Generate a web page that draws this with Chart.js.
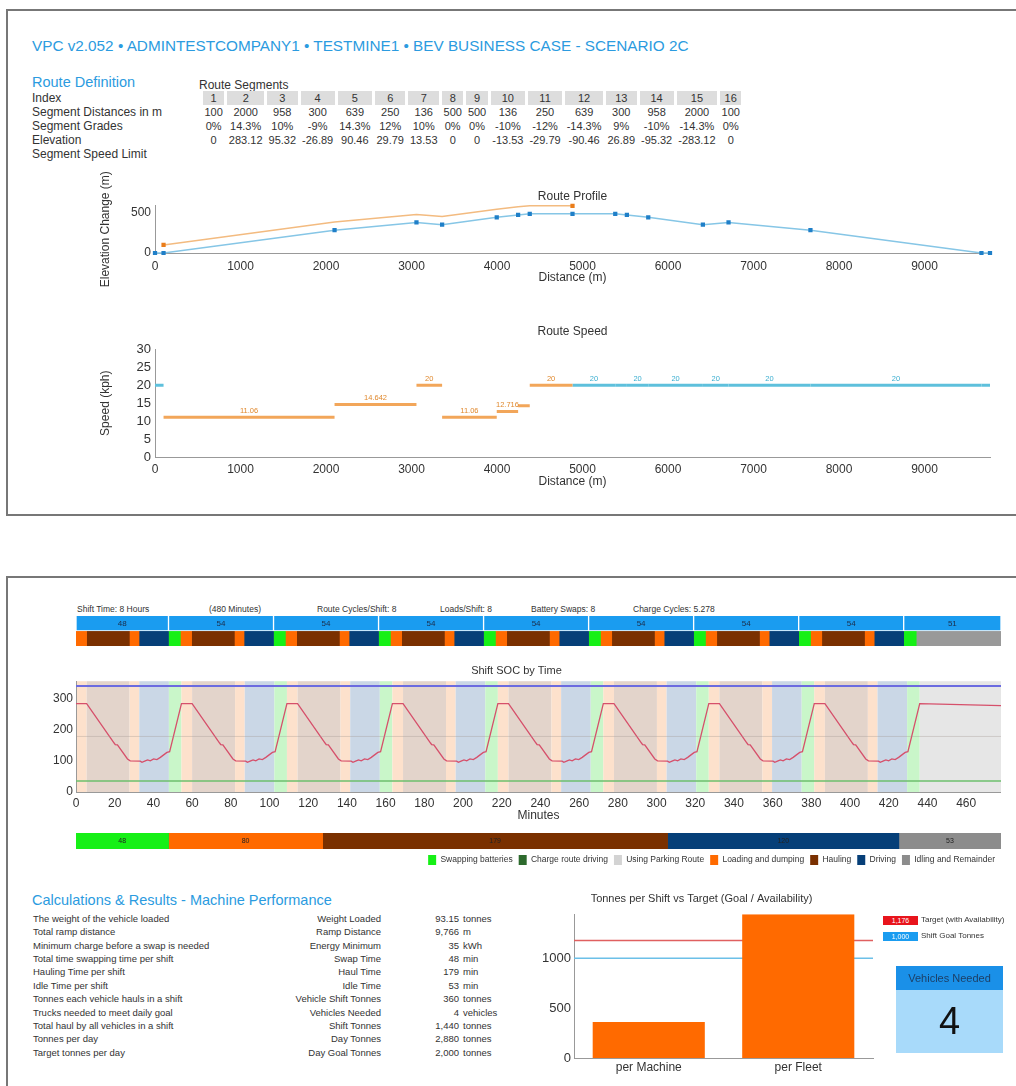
<!DOCTYPE html>
<html>
<head>
<meta charset="utf-8">
<title>VPC BEV Business Case</title>
<script src="https://cdn.jsdelivr.net/npm/chart.js@4.4.1/dist/chart.umd.min.js"></script>
<style>
  body { margin: 0; background: #fff; font-family: "Liberation Sans", Arial, sans-serif; color: #333; }
  #page { position: relative; width: 1016px; height: 1086px; overflow: hidden; }
  .panel { position: absolute; border: 2px solid #777; }
  .txt { position: absolute; white-space: nowrap; line-height: 1; }
  .head { color: #2b9be0; }
  canvas { position: absolute; }
  #segTable { position: absolute; left: 29px; top: 91px; border-collapse: separate; border-spacing: 3px 0; font-size: 11px; }
  #segTable td { height: 14px; line-height: 14px; padding: 0 1.5px; text-align: center; white-space: nowrap; }
  #segTable td.lbl { text-align: left; font-size: 12px; width: 168px; padding: 0; }
  #segTable td.idx { background: #ddd; }
  .swatch { position: absolute; width: 35px; height: 9px; color: #fff; font-size: 7px; line-height: 9px; text-align: center; }
  #vehBox { position: absolute; left: 896px; top: 966px; width: 107px; height: 87px; background: #a8dafa; }
  #vehBox .top { height: 24px; line-height: 24px; background: #1a90e8; color: #1d3f66; font-size: 11px; text-align: center; }
  #vehBox .num { text-align: center; font-size: 38px; line-height: 63px; color: #111; }
</style>
</head>
<body>
<div id="page">
  <div class="panel" style="left:6px; top:9px; width:1030px; height:503px;"></div>
  <div class="panel" style="left:6px; top:576px; width:1030px; height:540px;"></div>

  <div class="txt head" style="left:32px; top:38px; font-size:15.3px;">VPC v2.052 • ADMINTESTCOMPANY1 • TESTMINE1 • BEV BUSINESS CASE - SCENARIO 2C</div>
  <div class="txt head" style="left:32px; top:75px; font-size:14.5px;">Route Definition</div>
  <div class="txt" style="left:199px; top:79px; font-size:12px;">Route Segments</div>
  <table id="segTable"></table>

  <canvas id="profile" width="910" height="125" style="left:95px; top:165px;"></canvas>
  <canvas id="speed" width="910" height="176" style="left:95px; top:318px;"></canvas>

  <div id="shiftInfo"></div>
  <canvas id="strip" width="925" height="30" style="left:76px; top:616px;"></canvas>
  <canvas id="soc" width="969" height="166" style="left:32px; top:660px;"></canvas>
  <canvas id="totals" width="925" height="32" style="left:76px; top:833px;"></canvas>

  <div class="txt head" style="left:32px; top:893px; font-size:14.5px;">Calculations &amp; Results - Machine Performance</div>
  <div id="calc"></div>

  <canvas id="tonnes" width="486" height="190" style="left:530px; top:888px;"></canvas>
  <div id="tonnesKey"></div>
  <div id="vehBox"><div class="top">Vehicles Needed</div><div class="num" id="vehNum"></div></div>
</div>

<script>
// ---------- route segments ----------
const segIndex = ['1', '2', '3', '4', '5', '6', '7', '8', '9', '10', '11', '12', '13', '14', '15', '16'];
const segDist = ['100', '2000', '958', '300', '639', '250', '136', '500', '500', '136', '250', '639', '300', '958', '2000', '100'];
const segGrade = ['0%', '14.3%', '10%', '-9%', '14.3%', '12%', '10%', '0%', '0%', '-10%', '-12%', '-14.3%', '9%', '-10%', '-14.3%', '0%'];
const segElev = ['0', '283.12', '95.32', '-26.89', '90.46', '29.79', '13.53', '0', '0', '-13.53', '-29.79', '-90.46', '26.89', '-95.32', '-283.12', '0'];

// ---------- route profile (distance m / elevation m) ----------
const profileDist = [0, 100, 2100, 3058, 3358, 3997, 4247, 4383, 4883, 5383, 5519, 5769, 6408, 6708, 7666, 9666, 9766];
const profileElev = [0, 0, 283.12, 378.44, 351.55, 442.01, 471.8, 485.33, 485.33, 485.33, 471.8, 442.01, 351.55, 378.44, 283.12, 0, 0];
const loadedDist = [100, 2100, 3058, 3358, 3997, 4247, 4383, 4883];
const loadedElev = [100, 383, 478, 452, 542, 572, 585, 585];

// ---------- route speed (per segment) ----------
const speedKph = [20, 11.06, 14.642, 20, 11.06, 12.716, 14.3, 20, 20, 20, 20, 20, 20, 20, 20, 20];
const speedLoaded = [0, 1, 1, 1, 1, 1, 1, 1, 0, 0, 0, 0, 0, 0, 0, 0];
const speedText = ['', '11.06', '14.642', '20', '11.06', '12.716', '', '20', '20', '', '20', '20', '20', '20', '20', ''];

// ---------- tick labels ----------
const distTicks = [0, 1000, 2000, 3000, 4000, 5000, 6000, 7000, 8000, 9000];
const elevTicks = [0, 500];
const speedTicks = [0, 5, 10, 15, 20, 25, 30];
const minuteTicks = [0, 20, 40, 60, 80, 100, 120, 140, 160, 180, 200, 220, 240, 260, 280, 300, 320, 340, 360, 380, 400, 420, 440, 460];
const socTicks = [0, 100, 200, 300];
const tonnesTicks = [0, 500, 1000];

// ---------- shift timeline (minutes) ----------
const shiftInfo = ['Shift Time: 8 Hours', '(480 Minutes)', 'Route Cycles/Shift: 8', 'Loads/Shift: 8', 'Battery Swaps: 8', 'Charge Cycles: 5.278'];
const blockLabels = ['48', '54', '54', '54', '54', '54', '54', '54', '51'];
const blockEdges = [0, 48, 102.5, 157, 211.5, 266, 320.5, 375, 429.5, 480];
const cycleStart = [0, 54.5, 109, 163.5, 218, 272.5, 327, 381.5];
const phaseFrom = [0, 5.5, 27.7, 32.7, 48];     // load, haul, dump, drive, swap
const phaseTo = [5.5, 27.7, 32.7, 48, 54.5];
const idleFrom = 436;
const shiftEnd = 480;

// ---------- state of charge (kWh), one cycle ----------
const socCycleT = [0, 5.5, 19.7, 20.3, 21.4, 26.6, 28, 33.2, 34.1, 35.8, 37, 38.4, 40.1, 41.8, 43.6, 45.3, 47, 48.4];
const socCycleV = [283, 283, 157, 152, 151, 106, 100, 99, 95, 100, 103, 100, 106, 104, 111, 119, 127, 129];
const socEndT = [436, 478];
const socEndV = [283, 277];
const socCapacity = 340;
const socMid = 178;
const socMinimum = 35;

// ---------- shift totals (minutes) ----------
const totalNames = ['Swapping batteries', 'Charge route driving', 'Using Parking Route', 'Loading and dumping', 'Hauling', 'Driving', 'Idling and Remainder'];
const totalMinutes = [48, 0, 0, 80, 179, 120, 53];

// ---------- machine performance ----------
const calcDesc = ['The weight of the vehicle loaded', 'Total ramp distance', 'Minimum charge before a swap is needed', 'Total time swapping time per shift', 'Hauling Time per shift', 'Idle Time per shift', 'Tonnes each vehicle hauls in a shift', 'Trucks needed to meet daily goal', 'Total haul by all vehicles in a shift', 'Tonnes per day', 'Target tonnes per day'];
const calcName = ['Weight Loaded', 'Ramp Distance', 'Energy Minimum', 'Swap Time', 'Haul Time', 'Idle Time', 'Vehicle Shift Tonnes', 'Vehicles Needed', 'Shift Tonnes', 'Day Tonnes', 'Day Goal Tonnes'];
const calcValue = ['93.15', '9,766', '35', '48', '179', '53', '360', '4', '1,440', '2,880', '2,000'];
const calcUnit = ['tonnes', 'm', 'kWh', 'min', 'min', 'min', 'tonnes', 'vehicles', 'tonnes', 'tonnes', 'tonnes'];

// ---------- tonnes per shift ----------
const tonnesCats = ['per Machine', 'per Fleet'];
const tonnesVals = [360, 1440];
const targetAvail = 1176;
const shiftGoal = 1000;
const vehiclesNeeded = 4;

// colours
const phaseColors = ['#ff6a00', '#7a3000', '#ff6a00', '#063f78', '#16f016'];
const bandColors = ['#fde1cc', '#e3d4cb', '#fde1cc', '#cad7e6', '#c9f6c9'];
const totalColors = ['#16f016', '#2d6a2d', '#d3d3d3', '#ff6a00', '#7a3000', '#063f78', '#8c8c8c'];

Chart.defaults.font.family = '"Liberation Sans", Arial, sans-serif';
Chart.defaults.color = '#333';
Chart.defaults.animation = false;
Chart.defaults.plugins.legend.display = false;
Chart.defaults.plugins.tooltip.enabled = false;

const setTicks = vals => scale => { scale.ticks = vals.map(v => ({ value: v })); };
const plainNum = v => String(v);
const noGrid = { display: false, drawTicks: false };
const axisLine = { display: true, color: '#999' };

/* ---------- route segment table ---------- */
const rows = [
    ['Index', segIndex, 'idx'],
    ['Segment Distances in m', segDist, ''],
    ['Segment Grades', segGrade, ''],
    ['Elevation', segElev, ''],
    ['Segment Speed Limit', null, '']
];
document.getElementById('segTable').innerHTML = rows.map(([lbl, vals, cls]) =>
    `<tr><td class="lbl">${lbl}</td>` +
    (vals ? vals.map(v => `<td class="${cls}">${v}</td>`).join('') : '<td colspan="16"></td>') +
    '</tr>').join('');

/* ---------- distance axis shared by both route charts ---------- */
function distAxis(pad) {
    return {
        type: 'linear', min: 0, max: 9766,
        grid: noGrid, border: axisLine,
        ticks: { font: { size: 12 }, padding: pad, maxRotation: 0, autoSkip: false, callback: plainNum },
        afterBuildTicks: setTicks(distTicks),
        afterFit: s => { s.height = 37; },
        title: { display: true, text: 'Distance (m)', font: { size: 12 }, padding: { top: 0, bottom: 5 } }
    };
}

// Route profile
new Chart(document.getElementById('profile'), {
    type: 'line',
    data: {
        datasets: [
            {
                data: profileDist.map((d, i) => ({ x: d, y: profileElev[i] })),
                borderColor: '#86c6e6', borderWidth: 1.5,
                pointStyle: 'rect', pointRadius: 3, pointBackgroundColor: '#1f7fc8', pointBorderWidth: 0,
                clip: 8
            },
            {
                data: loadedDist.map((d, i) => ({ x: d, y: loadedElev[i] })),
                borderColor: '#f3bb80', borderWidth: 1.5,
                pointStyle: 'rect', pointBackgroundColor: '#ea7d1a', pointBorderWidth: 0,
                pointRadius: loadedDist.map((d, i) => (i === 0 || i === loadedDist.length - 1) ? 3 : 0),
                clip: 8
            }
        ]
    },
    options: {
        responsive: false,
        layout: { padding: { top: 21, right: 15, left: 0, bottom: 0 } },
        plugins: {
            title: { display: true, fullSize: false, text: 'Route Profile', color: '#333', font: { size: 12, weight: 'normal' }, padding: { top: 3, bottom: 2 } }
        },
        scales: {
            x: distAxis(6),
            y: {
                min: 0, max: 590,
                grid: noGrid, border: axisLine,
                ticks: { font: { size: 12 }, padding: 4, autoSkip: false, callback: plainNum },
                afterBuildTicks: setTicks(elevTicks),
                afterFit: s => { s.width = 60; },
                title: { display: true, text: 'Elevation Change (m)', font: { size: 12 }, padding: { top: 3, bottom: 0 } }
            }
        }
    }
});

// Route speed
const speedSets = speedKph.map((v, i) => ({
    data: [{ x: profileDist[i], y: v }, { x: profileDist[i + 1], y: v }],
    borderColor: speedLoaded[i] ? '#f2a65a' : '#5ec0dc',
    borderWidth: 3, pointRadius: 0, borderCapStyle: 'butt'
}));

const speedLabels = {
    id: 'speedLabels',
    afterDatasetsDraw(chart) {
        const { ctx, scales: { x, y } } = chart;
        ctx.save();
        ctx.font = '7.5px "Liberation Sans", Arial, sans-serif';
        ctx.textAlign = 'center';
        ctx.textBaseline = 'bottom';
        speedText.forEach((t, i) => {
            if (!t) return;
            ctx.fillStyle = speedLoaded[i] ? '#e0892e' : '#3aaed0';
            const mid = (profileDist[i] + profileDist[i + 1]) / 2;
            ctx.fillText(t, x.getPixelForValue(mid), y.getPixelForValue(speedKph[i]) - 3);
        });
        ctx.restore();
    }
};

new Chart(document.getElementById('speed'), {
    type: 'line',
    data: { datasets: speedSets },
    options: {
        responsive: false,
        layout: { padding: { top: 0, right: 15, left: 0, bottom: 0 } },
        plugins: {
            title: { display: true, fullSize: false, text: 'Route Speed', color: '#333', font: { size: 12, weight: 'normal' }, padding: { top: 6, bottom: 11 } }
        },
        scales: {
            x: distAxis(5),
            y: {
                min: 0, max: 30,
                grid: noGrid, border: axisLine,
                ticks: { font: { size: 13 }, padding: 4, autoSkip: false, callback: plainNum },
                afterBuildTicks: setTicks(speedTicks),
                afterFit: s => { s.width = 60; },
                title: { display: true, text: 'Speed (kph)', font: { size: 12 }, padding: { top: 3, bottom: 0 } }
            }
        }
    },
    plugins: [speedLabels]
});

/* ---------- shift header ---------- */
const infoX = [77, 209, 317, 440, 531, 633];
document.getElementById('shiftInfo').innerHTML = shiftInfo.map((t, i) =>
    `<div class="txt" style="left:${infoX[i]}px; top:605px; font-size:8.5px;">${t}</div>`).join('');

const blockText = {
    id: 'blockText',
    afterDatasetsDraw(chart) {
        const { ctx, scales: { x, y } } = chart;
        ctx.save();
        ctx.font = '8px "Liberation Sans", Arial, sans-serif';
        ctx.fillStyle = '#1b2d4a';
        ctx.textAlign = 'center';
        ctx.textBaseline = 'middle';
        blockLabels.forEach((t, i) => {
            ctx.fillText(t, x.getPixelForValue((blockEdges[i] + blockEdges[i + 1]) / 2), y.getPixelForValue(0));
        });
        ctx.restore();
    }
};

const barBase = { grouped: false, categoryPercentage: 1, barPercentage: 1 };
const stripSets = [{
    ...barBase,
    data: blockLabels.map((t, i) => ({ x: [blockEdges[i], blockEdges[i + 1]], y: 'blocks' })),
    backgroundColor: '#1a9cf0', borderColor: '#fff',
    borderWidth: { left: 1, right: 1, top: 0, bottom: 1 }, borderSkipped: false
}];
phaseFrom.forEach((f, k) => stripSets.push({
    ...barBase,
    data: cycleStart.map(c => ({ x: [c + f, c + phaseTo[k]], y: 'phases' })),
    backgroundColor: phaseColors[k]
}));
stripSets.push({ ...barBase, data: [{ x: [idleFrom, shiftEnd], y: 'phases' }], backgroundColor: '#999' });

new Chart(document.getElementById('strip'), {
    type: 'bar',
    data: { labels: ['blocks', 'phases'], datasets: stripSets },
    options: {
        responsive: false,
        indexAxis: 'y',
        layout: { padding: 0 },
        scales: {
            x: { type: 'linear', min: 0, max: shiftEnd, display: false },
            y: { display: false }
        }
    },
    plugins: [blockText]
});

/* ---------- shift SOC by time ---------- */
const socPts = [];
cycleStart.forEach(c => socCycleT.forEach((t, i) => socPts.push({ x: c + t, y: socCycleV[i] })));
socEndT.forEach((t, i) => socPts.push({ x: t, y: socEndV[i] }));

const socXMax = 478;
const hLine = (v, color, w) => ({ data: [{ x: 0, y: v }, { x: socXMax, y: v }], borderColor: color, borderWidth: w, pointRadius: 0 });

const socBands = {
    id: 'socBands',
    beforeDraw(chart) {
        const { ctx, chartArea: a, scales: { x } } = chart;
        ctx.save();
        cycleStart.forEach(c => phaseFrom.forEach((f, k) => {
            const x0 = x.getPixelForValue(c + f);
            const x1 = x.getPixelForValue(c + phaseTo[k]);
            ctx.fillStyle = bandColors[k];
            ctx.fillRect(x0, a.top, x1 - x0, a.bottom - a.top);
        }));
        const xi = x.getPixelForValue(idleFrom);
        ctx.fillStyle = '#e6e6e6';
        ctx.fillRect(xi, a.top, a.right - xi, a.bottom - a.top);
        ctx.restore();
    }
};

new Chart(document.getElementById('soc'), {
    type: 'line',
    data: {
        datasets: [
            hLine(socMid, 'rgba(160,150,140,0.35)', 1),
            hLine(socMinimum, '#6cbf6c', 1.5),
            hLine(socCapacity, '#6b6be0', 2),
            { data: socPts, borderColor: '#d6506b', borderWidth: 1.3, pointRadius: 0 }
        ]
    },
    options: {
        responsive: false,
        layout: { padding: 0 },
        plugins: {
            title: { display: true, text: 'Shift SOC by Time', color: '#333', font: { size: 11, weight: 'normal' }, padding: { top: 4, bottom: 4 } }
        },
        scales: {
            x: {
                type: 'linear', min: 0, max: socXMax,
                grid: noGrid, border: axisLine,
                ticks: { font: { size: 12 }, padding: 4, maxRotation: 0, autoSkip: false, callback: plainNum },
                afterBuildTicks: setTicks(minuteTicks),
                afterFit: s => { s.height = 34; },
                title: { display: true, text: 'Minutes', font: { size: 12 }, padding: { top: 0, bottom: 3 } }
            },
            y: {
                min: 0, max: 355,
                grid: noGrid, border: axisLine,
                ticks: { font: { size: 12 }, padding: 3, autoSkip: false, callback: plainNum },
                afterBuildTicks: setTicks(socTicks),
                afterFit: s => { s.width = 44; }
            }
        }
    },
    plugins: [socBands]
});

/* ---------- shift totals ---------- */
const totalsText = {
    id: 'totalsText',
    afterDatasetsDraw(chart) {
        const { ctx } = chart;
        ctx.save();
        ctx.font = '7px "Liberation Sans", Arial, sans-serif';
        ctx.fillStyle = '#222';
        ctx.textAlign = 'center';
        ctx.textBaseline = 'middle';
        totalMinutes.forEach((m, i) => {
            if (!m) return;
            const b = chart.getDatasetMeta(i).data[0].getProps(['x', 'base', 'y'], true);
            ctx.fillText(String(m), (b.x + b.base) / 2, b.y);
        });
        ctx.restore();
    }
};

new Chart(document.getElementById('totals'), {
    type: 'bar',
    data: {
        labels: ['Shift'],
        datasets: totalNames.map((n, i) => ({
            label: n, data: [totalMinutes[i]], backgroundColor: totalColors[i],
            categoryPercentage: 1, barPercentage: 1
        }))
    },
    options: {
        responsive: false,
        indexAxis: 'y',
        layout: { padding: 0 },
        scales: {
            x: { stacked: true, min: 0, max: shiftEnd, display: false },
            y: { stacked: true, display: false }
        },
        plugins: {
            legend: {
                display: true, position: 'bottom', align: 'end',
                labels: { boxWidth: 8, boxHeight: 10, padding: 6, color: '#333', font: { size: 8.5 } }
            }
        }
    },
    plugins: [totalsText]
});

/* ---------- machine performance table ---------- */
document.getElementById('calc').innerHTML = calcDesc.map((d, i) => {
    const top = 914 + i * 13.37;
    return `<div class="txt" style="left:33px; top:${top}px; font-size:9.5px;">${d}</div>` +
        `<div class="txt" style="right:${1016 - 381}px; top:${top}px; font-size:9.5px;">${calcName[i]}</div>` +
        `<div class="txt" style="right:${1016 - 459}px; top:${top}px; font-size:9.5px;">${calcValue[i]}</div>` +
        `<div class="txt" style="left:463px; top:${top}px; font-size:9.5px;">${calcUnit[i]}</div>`;
}).join('');

/* ---------- tonnes per shift vs target ---------- */
const targetLines = {
    id: 'targetLines',
    beforeDatasetsDraw(chart) {
        const { ctx, chartArea: a, scales: { y } } = chart;
        ctx.save();
        ctx.lineWidth = 1.5;
        [[targetAvail, '#e06060'], [shiftGoal, '#6cc0e8']].forEach(([v, c]) => {
            const py = y.getPixelForValue(v);
            ctx.strokeStyle = c;
            ctx.beginPath();
            ctx.moveTo(a.left, py);
            ctx.lineTo(a.right, py);
            ctx.stroke();
        });
        ctx.restore();
    }
};

new Chart(document.getElementById('tonnes'), {
    type: 'bar',
    data: {
        labels: tonnesCats,
        datasets: [{ data: tonnesVals, backgroundColor: '#ff6a00', barPercentage: 0.75, categoryPercentage: 1 }]
    },
    options: {
        responsive: false,
        layout: { padding: { top: 0, right: 143, left: 0, bottom: 0 } },
        plugins: {
            title: { display: true, text: 'Tonnes per Shift vs Target (Goal / Availability)', color: '#333', font: { size: 11, weight: 'normal' }, padding: { top: 4, bottom: 9 } }
        },
        scales: {
            x: {
                grid: noGrid, border: axisLine,
                ticks: { font: { size: 12 }, padding: 2 },
                afterFit: s => { s.height = 20; }
            },
            y: {
                min: 0, max: 1440,
                grid: noGrid, border: axisLine,
                ticks: { font: { size: 13 }, padding: 3, autoSkip: false, callback: plainNum },
                afterBuildTicks: setTicks(tonnesTicks),
                afterFit: s => { s.width = 44; }
            }
        }
    },
    plugins: [targetLines]
});

const fmt = n => n.toLocaleString('en-US');
document.getElementById('tonnesKey').innerHTML =
    `<div class="swatch" style="left:883px; top:916px; background:#e8141c;">${fmt(targetAvail)}</div>` +
    `<div class="txt" style="left:921px; top:916px; font-size:8px;">Target (with Availability)</div>` +
    `<div class="swatch" style="left:883px; top:932px; background:#1a9cf0;">${fmt(shiftGoal)}</div>` +
    `<div class="txt" style="left:921px; top:932px; font-size:8px;">Shift Goal Tonnes</div>`;
document.getElementById('vehNum').textContent = vehiclesNeeded;
</script>
</body>
</html>
